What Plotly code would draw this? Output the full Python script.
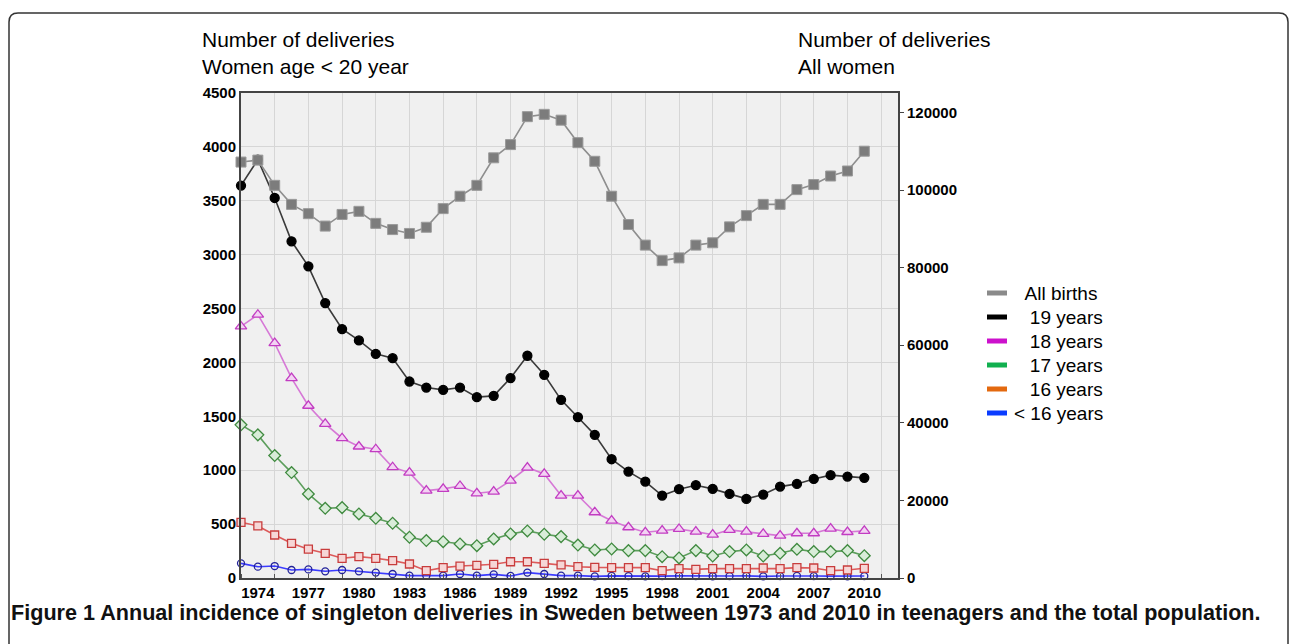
import plotly.graph_objects as go

years = list(range(1973, 2011))

# Deliveries, all women (right axis)
all_births = [107200, 107700, 101200, 96300, 93900, 90700, 93700, 94500, 91400, 89800,
              88800, 90400, 95200, 98400, 101200, 108300, 111700, 118900, 119500, 118000,
              112200, 107400, 98400, 91100, 85800, 81800, 82500, 85800, 86400, 90500,
              93400, 96300, 96300, 100100, 101400, 103600, 104900, 110000]

# Deliveries by maternal age (left axis)
age_19 = [3641, 3882, 3526, 3124, 2892, 2551, 2310, 2204, 2080, 2040,
          1823, 1767, 1746, 1767, 1678, 1690, 1855, 2062, 1885, 1653,
          1492, 1328, 1102, 987, 895, 765, 824, 861, 827, 780,
          734, 774, 848, 873, 919, 954, 941, 929]
age_18 = [2334, 2443, 2180, 1855, 1598, 1430, 1297, 1220, 1195, 1028,
          978, 811, 827, 854, 786, 802, 904, 1025, 966, 765,
          765, 610, 532, 471, 424, 439, 455, 430, 402, 446,
          430, 409, 393, 415, 415, 458, 427, 437]
age_17 = [1421, 1328, 1136, 978, 780, 647, 653, 594, 554, 508,
          378, 347, 337, 316, 300, 362, 409, 437, 406, 384,
          306, 260, 269, 254, 254, 198, 186, 254, 204, 245,
          260, 204, 229, 266, 245, 245, 254, 207]
age_16 = [517, 483, 399, 322, 267, 229, 183, 198, 183, 161,
          130, 68, 96, 111, 118, 127, 151, 151, 136, 121,
          105, 99, 96, 96, 96, 68, 87, 80, 87, 87,
          87, 93, 87, 96, 93, 68, 74, 90]
age_u16 = [136, 105, 111, 74, 80, 62, 74, 62, 50, 37,
           22, 22, 22, 37, 22, 34, 19, 50, 37, 22,
           22, 15, 20, 18, 15, 17, 20, 18, 16, 18,
           20, 15, 18, 20, 18, 17, 16, 18]

x_ticks = list(range(1974, 2011, 3))
left_ticks = list(range(0, 4501, 500))
right_ticks = list(range(0, 120001, 20000))

legend_names = ["\u00a0\u00a0All births", "\u00a0\u00a0\u00a019 years", "\u00a0\u00a0\u00a018 years",
                "\u00a0\u00a0\u00a017 years", "\u00a0\u00a0\u00a016 years", "&lt; 16 years"]
legend_colors = ["#8a8a8a", "#000000", "#cc11cc", "#11b04f", "#e3690f", "#0a3cff"]

L, R, T, B = 241, 392, 93, 66
W, H = 1290, 644
PW, PH = W - L - R, H - T - B


def px(x):
    return (x - L) / PW


def py(y):
    return (H - B - y) / PH


fig = go.Figure()

series = [
    (age_u16, "#3b3bff", "circle-open", "#22229a", None, 7),
    (age_16, "#dd5a5a", "square", "#c83c3c", "#f6d6d6", 8),
    (age_17, "#5c9e5c", "diamond", "#3f8a3f", "#d8ecd8", 9),
    (age_18, "#d678d6", "triangle-up", "#c23cc2", "#f3d2f3", 10),
    (age_19, "#3a3a3a", "circle", "#000000", "#000000", 9),
]
for vals, lc, sym, mc, fill, size in series:
    marker = dict(symbol=sym, size=size, line=dict(color=mc, width=1.3))
    marker["color"] = fill if fill is not None else mc
    fig.add_trace(go.Scatter(x=years, y=vals, mode="lines+markers",
                             line=dict(color=lc, width=1.6), marker=marker,
                             showlegend=False, cliponaxis=False))

fig.add_trace(go.Scatter(x=years, y=all_births, yaxis="y2", mode="lines+markers",
                         line=dict(color="#8e8e8e", width=1.6),
                         marker=dict(symbol="square", size=10, color="#7c7c7c",
                                     line=dict(color="#9a9a9a", width=1)),
                         showlegend=False, cliponaxis=False))

tick_font = dict(family="Liberation Sans", size=15, color="#000000", weight="bold")

fig.update_layout(
    width=W, height=H,
    margin=dict(l=L, r=R, t=T, b=B),
    paper_bgcolor="white",
    plot_bgcolor="#f0f0f0",
    font=dict(family="Liberation Sans", color="#000000"),
    showlegend=False,
    xaxis=dict(range=[1973, 2012], tickvals=x_ticks, ticks="", showgrid=False,
               zeroline=False, showline=True, linecolor="#444444", linewidth=2,
               mirror=True, tickfont=tick_font,
               minor=dict(tick0=1975, dtick=2, showgrid=True, gridcolor="#d6d6d6",
                          gridwidth=1, ticks="inside", ticklen=4, tickcolor="#555555")),
    yaxis=dict(range=[0, 4500], tickvals=left_ticks, ticks="", showgrid=True,
               gridcolor="#d6d6d6", gridwidth=1, zeroline=False, showline=True,
               linecolor="#444444", linewidth=2, mirror=True, tickfont=tick_font),
    yaxis2=dict(range=[0, 125000], tickvals=right_ticks, tickformat="d",
                overlaying="y", side="right",
                showgrid=False, zeroline=False, showline=True, linecolor="#444444",
                linewidth=2, ticks="outside", ticklen=4, tickcolor="#444444",
                tickfont=tick_font),
)

# key: short thick swatches with labels beside the plot
for i, (name, col) in enumerate(zip(legend_names, legend_colors)):
    yc = 293 + 24 * i
    fig.add_shape(type="line", xref="paper", yref="paper",
                  x0=px(987), x1=px(1007), y0=py(yc), y1=py(yc),
                  line=dict(color=col, width=5))
    fig.add_annotation(xref="paper", yref="paper", x=px(1012), y=py(yc),
                       xanchor="left", yanchor="middle", showarrow=False,
                       font=dict(family="Liberation Sans", size=19, color="#000000"),
                       text=name)

title_font = dict(family="Liberation Sans", size=21, color="#000000")
fig.add_annotation(xref="paper", yref="paper", x=px(200), y=py(26), xanchor="left",
                   yanchor="top", align="left", showarrow=False, font=title_font,
                   text="Number of deliveries<br>Women age &lt; 20 year")
fig.add_annotation(xref="paper", yref="paper", x=px(796), y=py(26), xanchor="left",
                   yanchor="top", align="left", showarrow=False, font=title_font,
                   text="Number of deliveries<br>All women")

fig.add_annotation(xref="paper", yref="paper", x=px(9), y=py(612), xanchor="left",
                   yanchor="middle", align="left", showarrow=False,
                   font=dict(family="Liberation Sans", size=21.6, color="#111111"),
                   text="<b>Figure 1 Annual incidence of singleton deliveries in Sweden between "
                        "1973 and 2010 in teenagers and the total population.</b>")

# rounded frame around the figure panel
x0, x1, y0, y1, r = px(9), px(1288), py(13), py(700), 9
fig.add_shape(type="path", xref="paper", yref="paper",
              path=(f"M {x0},{y1} L {x0},{py(13 + r)} Q {x0},{y0} {px(9 + r)},{y0} "
                    f"L {px(1288 - r)},{y0} Q {x1},{y0} {x1},{py(13 + r)} L {x1},{y1}"),
              line=dict(color="#333333", width=1.5))

fig.write_html("out.html")
